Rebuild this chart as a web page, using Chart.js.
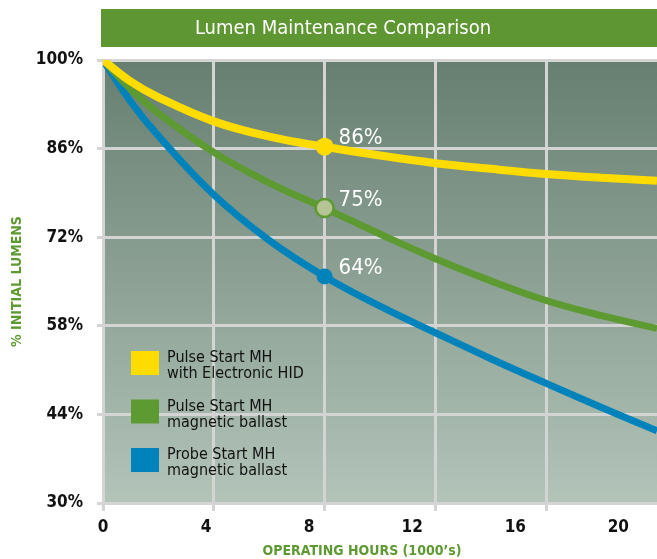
<!DOCTYPE html>
<html>
<head>
<meta charset="utf-8">
<title>Lumen Maintenance Comparison</title>
<script src="https://cdn.jsdelivr.net/npm/chart.js@4.4.0/dist/chart.umd.min.js"></script>
<style>
html, body { margin: 0; padding: 0; background: #fff; overflow: hidden; }
canvas { display: block; }
</style>
</head>
<body>
<canvas id="chart_lumen" width="657" height="559"></canvas>
<script>
// data
var hours = [0, 1, 2, 4, 6, 8, 10, 12, 14, 16, 18, 20];
var pulseElectronic = [100, 96.6, 94.1, 90.3, 87.9, 86.3, 84.9, 83.7, 82.8, 82.0, 81.4, 80.9];
var pulseMagnetic = [100, 95.4, 91.6, 85.4, 80.6, 76.6, 72.5, 68.6, 65.1, 62.0, 59.6, 57.6];
var probeMagnetic = [100, 93.4, 88.0, 78.7, 71.5, 65.8, 61.1, 56.9, 52.8, 48.9, 45.1, 41.4];
var seriesLabels = [
    ["Pulse Start MH", "with Electronic HID"],
    ["Pulse Start MH", "magnetic ballast"],
    ["Probe Start MH", "magnetic ballast"]
];
var markerHour = 8;
var markerLabels = ["86%", "75%", "64%"];
var yTicks = [30, 44, 58, 72, 86, 100];
var xTicks = [0, 4, 8, 12, 16, 20];

var chartTitle = "Lumen Maintenance Comparison";
var xTitle = "OPERATING HOURS (1000\u2019s)";
var yTitle = "% INITIAL LUMENS";

var FONT = '"Liberation Sans Narrow", "DejaVu Sans Condensed", "Roboto Condensed", sans-serif';
var GREEN = "#5e9a32";
var GRID = "#d3d4d3";

function toPoints(values) {
    return hours.map(function (h, i) { return { x: h, y: values[i] }; });
}

function markerSize(r) {
    return function (ctx) { return ctx.raw && ctx.raw.x === markerHour ? r : 0; };
}

var lineSets = [
    { data: pulseElectronic, color: "#ffdc00", width: 8, fill: "#ffdc00", radius: 9, border: 0 },
    { data: pulseMagnetic, color: GREEN, width: 7, fill: "#b6c394", radius: 9, border: 2.5 },
    { data: probeMagnetic, color: "#0083ba", width: 7, fill: "#0083ba", radius: 8, border: 0 }
];

var datasets = lineSets.map(function (s, i) {
    return {
        label: seriesLabels[i].join(" "),
        data: toPoints(s.data),
        borderColor: s.color,
        borderWidth: s.width,
        tension: 0.4,
        pointRadius: markerSize(s.radius),
        pointBackgroundColor: s.fill,
        pointBorderColor: s.color,
        pointBorderWidth: s.border,
        fill: false
    };
});

// green banner + plot gradient
var backdrop = {
    id: "backdrop",
    beforeDraw: function (chart) {
        var c = chart.ctx, a = chart.chartArea;
        c.save();
        c.fillStyle = "#5e9732";
        c.fillRect(a.left - 2, 9, chart.width - a.left + 2, 38);
        c.fillStyle = "#fff";
        c.font = "20px " + FONT;
        c.textAlign = "center";
        c.textBaseline = "middle";
        c.fillText(chartTitle, 343, 29);

        var g = c.createLinearGradient(0, a.top, 0, a.bottom);
        g.addColorStop(0, "#667f70");
        g.addColorStop(1, "#b3c4b9");
        c.fillStyle = g;
        c.fillRect(a.left, a.top, a.right - a.left, a.bottom - a.top);
        c.restore();
    }
};

// percentage labels next to the markers
var markerText = {
    id: "markerText",
    afterDatasetsDraw: function (chart) {
        var c = chart.ctx;
        var idx = hours.indexOf(markerHour);
        c.save();
        c.fillStyle = "#fff";
        c.font = "22px " + FONT;
        c.textAlign = "left";
        c.textBaseline = "middle";
        chart.data.datasets.forEach(function (ds, i) {
            var pt = chart.getDatasetMeta(i).data[idx];
            c.fillText(markerLabels[i], pt.x + 14, pt.y - 8);
        });
        c.restore();
    }
};

// boxed legend inside the plot + x axis title
var sideText = {
    id: "sideText",
    afterDraw: function (chart) {
        var c = chart.ctx, a = chart.chartArea;
        c.save();
        var left = a.left + 28, top = a.top + 291;
        c.font = "16px " + FONT;
        c.textAlign = "left";
        c.textBaseline = "alphabetic";
        lineSets.forEach(function (s, i) {
            var y = top + i * 48.5;
            c.fillStyle = s.color;
            c.fillRect(left, y, 28, 24);
            c.fillStyle = "#111";
            c.fillText(seriesLabels[i][0], left + 36, y + 11);
            c.fillText(seriesLabels[i][1], left + 36, y + 27);
        });
        c.fillStyle = GREEN;
        c.font = "bold 14px " + FONT;
        c.textAlign = "center";
        c.fillText(xTitle, 362, 555);
        c.restore();
    }
};

var tickFont = { family: FONT, size: 17, weight: "bold" };

new Chart(document.getElementById("chart_lumen").getContext("2d"), {
    type: "line",
    data: { datasets: datasets },
    plugins: [backdrop, markerText, sideText],
    options: {
        responsive: false,
        animation: false,
        events: [],
        layout: { padding: { top: 60, left: 0, right: 0, bottom: 0 } },
        plugins: { legend: { display: false }, tooltip: { enabled: false } },
        scales: {
            x: {
                type: "linear",
                position: "bottom",
                weight: 0,
                min: 0,
                max: 20,
                afterBuildTicks: function (s) {
                    s.ticks = xTicks.filter(function (v) { return v < s.max; }).map(function (v) { return { value: v }; });
                },
                afterFit: function (s) { s.height = 10; },
                ticks: { display: false },
                grid: { color: GRID, lineWidth: 3, tickLength: 8 },
                border: { color: GRID, width: 3 }
            },
            // tick labels of the original are spaced a little tighter than its grid
            xLabel: {
                type: "linear",
                position: "bottom",
                weight: 1,
                min: 0,
                max: 21.5,
                afterBuildTicks: function (s) { s.ticks = xTicks.map(function (v) { return { value: v }; }); },
                afterFit: function (s) { s.height = 46; },
                ticks: { color: "#111", font: tickFont, padding: 4, maxRotation: 0 },
                grid: { display: false, drawTicks: false },
                border: { display: false }
            },
            y: {
                min: 30,
                max: 100,
                afterBuildTicks: function (s) { s.ticks = yTicks.map(function (v) { return { value: v }; }); },
                afterFit: function (s) { s.width = 103; },
                ticks: {
                    color: "#111",
                    font: tickFont,
                    padding: 14,
                    callback: function (v) { return v + "%"; }
                },
                grid: { color: GRID, lineWidth: 3, tickLength: 6 },
                border: { color: GRID, width: 3 },
                title: {
                    display: true,
                    text: yTitle,
                    color: GREEN,
                    font: { family: FONT, size: 14, weight: "bold" },
                    padding: { top: 9, bottom: 0 }
                }
            }
        }
    }
});
</script>
</body>
</html>
